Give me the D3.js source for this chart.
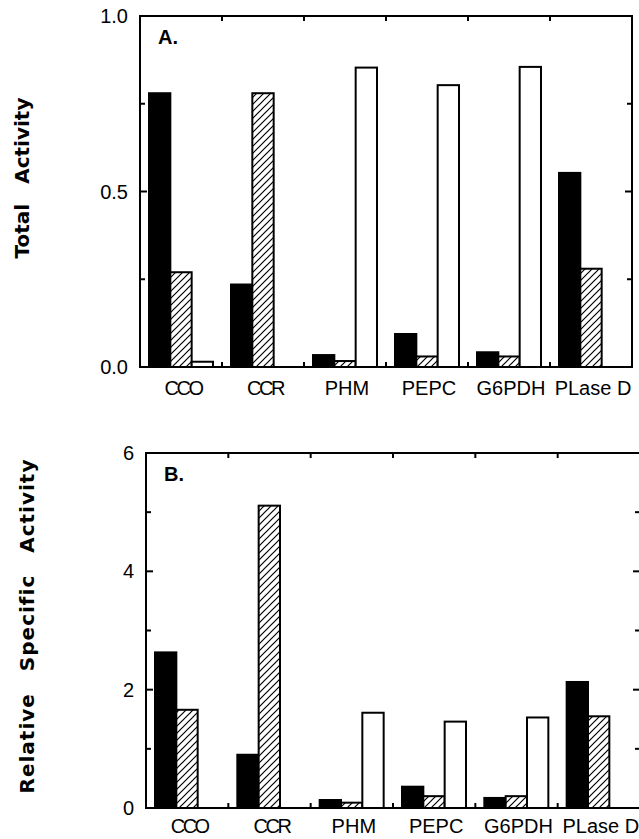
<html>
<meta http-equiv="content-type" content="text/html; charset=UTF8">
<style>
  body {margin:0; background:#fff;}
  text {font-family: "Liberation Sans", Arial, sans-serif; fill:#000;}
</style>
<body>
<svg id="svg1" width="639" height="839"></svg>

<script src="https://cdn.jsdelivr.net/npm/d3@7"></script>
<script>
// enzyme markers along the x axis
var categories = ["CCO", "CCR", "PHM", "PEPC", "G6PDH", "PLase D"];
var series = ["black", "hatched", "open"];

// panel A: total activity
var totalBlack   = [0.78, 0.235, 0.034, 0.094, 0.042, 0.553];
var totalHatched = [0.27, 0.78, 0.017, 0.03, 0.03, 0.28];
var totalOpen    = [0.015, 0, 0.853, 0.803, 0.855, 0];
var totalTicks   = [0, 0.5, 1.0];
var totalMinor   = [0.25, 0.75];

// panel B: relative specific activity
var relBlack   = [2.63, 0.9, 0.135, 0.36, 0.17, 2.13];
var relHatched = [1.66, 5.11, 0.09, 0.2, 0.2, 1.55];
var relOpen    = [0, 0, 1.61, 1.46, 1.53, 0];
var relTicks   = [0, 2, 4, 6];
var relMinor   = [1, 3, 5];

var svg = d3.select("#svg1");

var defs = svg.append("defs");
var pat = defs.append("pattern")
	.attr("id", "hatch")
	.attr("patternUnits", "userSpaceOnUse")
	.attr("width", 7).attr("height", 7);
pat.append("rect").attr("width", 7).attr("height", 7).attr("fill", "#fff");
pat.append("path")
	.attr("d", "M-1,1 L1,-1 M0,7 L7,0 M6,8 L8,6")
	.attr("stroke", "#000").attr("stroke-width", 1.2);

var fillOf = {black: "#000", hatched: "url(#hatch)", open: "#fff"};

var panel = function(p) {
	var g = svg.append("g");
	var x = d3.scaleBand().domain(categories).range([p.left, p.right]);
	var xs = d3.scaleBand().domain(series).range([9, 73]);
	var y = d3.scaleLinear().domain(p.domain).range([p.bottom, p.top]);

	var rows = [];
	categories.forEach(function(c, i) {
		series.forEach(function(s, j) {
			rows.push({cat: c, ser: s, v: p.values[j][i]});
		});
	});

	g.selectAll("rect.bar")
	    .data(rows.filter(function(d) { return d.v > 0; }))
	  .enter().append("rect")
	    .attr("class", "bar")
	    .attr("x", function(d) { return x(d.cat) + xs(d.ser); })
	    .attr("width", xs.bandwidth())
	    .attr("y", function(d) { return y(d.v); })
	    .attr("height", function(d) { return y(0) - y(d.v); })
	    .style("fill", function(d) { return fillOf[d.ser]; })
	    .style("stroke", "#000")
	    .style("stroke-width", 2);

	// frame
	g.append("rect")
	    .attr("x", p.left).attr("y", p.top)
	    .attr("width", p.right - p.left).attr("height", p.bottom - p.top)
	    .style("fill", "none").style("stroke", "#000").style("stroke-width", 2);

	// ticks on left and right (inward)
	var tk = function(vals, len) {
		g.selectAll(null).data(vals).enter().append("line")
		    .attr("x1", p.left).attr("x2", p.left + len)
		    .attr("y1", y).attr("y2", y)
		    .style("stroke", "#000").style("stroke-width", 2);
		g.selectAll(null).data(vals).enter().append("line")
		    .attr("x1", p.right).attr("x2", p.right - len)
		    .attr("y1", y).attr("y2", y)
		    .style("stroke", "#000").style("stroke-width", 2);
	};
	tk(p.ticks, 7);
	tk(p.minor, 5);

	// boundary ticks top and bottom
	var bounds = categories.slice(1).map(function(c) { return x(c); });
	g.selectAll(null).data(bounds).enter().append("line")
	    .attr("x1", function(d) { return d; }).attr("x2", function(d) { return d; })
	    .attr("y1", p.top).attr("y2", p.top + 5)
	    .style("stroke", "#000").style("stroke-width", 2);
	g.selectAll(null).data(bounds).enter().append("line")
	    .attr("x1", function(d) { return d; }).attr("x2", function(d) { return d; })
	    .attr("y1", p.bottom).attr("y2", p.bottom - 5)
	    .style("stroke", "#000").style("stroke-width", 2);

	// tick labels
	g.selectAll(null).data(p.ticks).enter().append("text")
	    .attr("x", p.left - 12)
	    .attr("y", y)
	    .attr("dy", "0.35em")
	    .attr("text-anchor", "end")
	    .style("font-size", "20px")
	    .text(p.fmt);

	// category labels
	g.selectAll(null).data(categories).enter().append("text")
	    .attr("x", function(d) { return x(d) + x.bandwidth() / 2 + 2; })
	    .attr("y", p.bottom + p.labelDy)
	    .attr("text-anchor", "middle")
	    .style("font-size", "20px")
	    .style("letter-spacing", function(d) { return d.indexOf("CC") == 0 ? "-2.5px" : "0px"; })
	    .text(function(d) { return d; });

	// panel letter
	g.append("text")
	    .attr("x", p.left + 18).attr("y", p.top + 28)
	    .style("font-size", "20px").style("font-weight", "bold")
	    .text(p.letter);

	// y title
	g.append("text")
	    .attr("transform", "translate(" + p.titleX + "," + p.titleY + ") rotate(-90)")
	    .attr("text-anchor", "middle")
	    .attr("dy", "0.35em")
	    .style("font-family", "'DejaVu Sans', sans-serif")
	    .style("font-size", "20px").style("font-weight", "bold")
	    .style("letter-spacing", p.ls + "px")
	    .style("word-spacing", p.ws + "px")
	    .text(p.title);
};

panel({
	left: 140, right: 632, top: 16, bottom: 367,
	domain: [0, 1], values: [totalBlack, totalHatched, totalOpen],
	ticks: totalTicks, minor: totalMinor,
	fmt: d3.format(".1f"), letter: "A.", labelDy: 28,
	title: "Total Activity", titleX: 22, titleY: 178, ls: 0, ws: 13
});

panel({
	left: 146, right: 640, top: 453, bottom: 808,
	domain: [0, 6], values: [relBlack, relHatched, relOpen],
	ticks: relTicks, minor: relMinor,
	fmt: d3.format("d"), letter: "B.", labelDy: 25,
	title: "Relative Specific Activity", titleX: 27, titleY: 626, ls: 1, ws: 14
});
</script>
</html>
